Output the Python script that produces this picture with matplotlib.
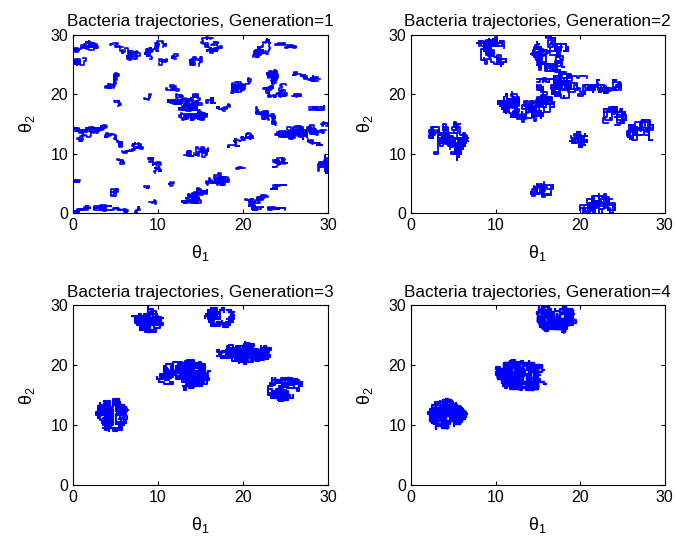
import matplotlib

matplotlib.use("Agg")
import matplotlib.pyplot as plt
import numpy as np

plt.rcParams["font.family"] = ["Liberation Sans", "DejaVu Sans"]
plt.rcParams["mathtext.fontset"] = "custom"
plt.rcParams["mathtext.rm"] = "Liberation Sans"
plt.rcParams["mathtext.it"] = "Liberation Sans:italic"

# Hand-typed lattice step sequences: only the fine texture of each trajectory
STEPS = ("rruldrrdluurrdldllurullddrrrdrullluurdluurrrrddlddllulllurruurrdrdddlldrrr"
         "ululurdddlluullldrrdrruuulldlurrrrdddllldllurrrruuullldddrruldrulldruurrd"
         "ddllluuuulluurddrddrrruuldluulllddrdllddrrrurdrruulluuurrdlddrrdllldlluur"
         "ullddddrruurrrdlldrruuuulllddrrulldluurrddrdlluuurrrrdddlluuldlddrrruullu")
TURNS = ("dddrrulurrddlldllluuulurrrrddrdllullluuurrrdddrrruulldldllldddrruurrdrru"
         "llluuullldddrrdlluurrruuldrrddddllllurrruuulldddrrrruullldddrruuuluurrdr"
         "rulluullddldrrdrrurrdddllullldddrruuurrdrrdlldllluuuulurrrddrrrullluuld")
# Irregular outline of a dense blob (relative radius around the centre)
LOBES = [1.1, 0.9, 1.0, 0.82, 1.05, 0.88, 1.1, 0.95, 0.84, 1.0, 0.9, 1.05]
# Where the separate scribbles of one blob begin (fraction of half width / height)
SEEDS = [(0.0, 0.0), (0.55, 0.45), (-0.55, 0.45), (0.5, -0.5), (-0.5, -0.5),
         (0.0, 0.65), (0.0, -0.65), (0.7, 0.0), (-0.7, 0.0)]

# Blob bounding boxes (centre x, centre y, half width, half height), per generation
gen1_x = [1.5, 0.8, 4.9, 6.7, 9.7, 10.6, 12.0, 14.5, 16.3, 22.2, 25.0, 4.6, 5.2, 8.8,
          11.7, 13.5, 16.2, 17.7, 19.8, 23.8, 26.7, 28.4, 26.3, 28.7, 22.7, 26.8, 29.6,
          28.5, 19.7, 15.1, 24.4, 29.4, 2.0, 4.8, 7.0, 9.6, 9.9, 5.6, 0.5, 4.9, 8.7,
          9.4, 11.6, 14.3, 17.2, 19.7, 21.6, 24.0, 24.2, 1.0, 3.5, 5.5, 7.6, 13.6,
          16.0, 12.7]
gen1_y = [28.0, 25.5, 28.3, 26.8, 27.5, 25.5, 26.3, 25.5, 28.3, 27.8, 28.2, 22.3, 18.5,
          19.5, 21.0, 17.8, 19.0, 17.8, 21.5, 21.8, 23.2, 22.6, 19.8, 17.7, 16.3, 13.6,
          15.0, 12.0, 12.3, 10.3, 8.5, 8.2, 13.5, 12.3, 11.0, 8.7, 7.3, 8.7, 5.4, 3.5,
          4.4, 1.9, 4.9, 3.0, 5.8, 7.6, 1.8, 0.8, 4.4, 0.6, 0.9, 0.5, 0.5, 10.0, 5.2,
          19.5]
gen1_w = [1.5, 0.7, 0.6, 1.2, 1.2, 0.5, 0.4, 0.7, 1.2, 1.0, 1.2, 0.8, 0.4, 0.4, 0.8,
          2.3, 0.5, 0.8, 1.2, 1.4, 0.8, 0.7, 0.5, 0.9, 1.2, 3.0, 0.4, 0.8, 1.5, 0.8,
          0.8, 0.6, 2.0, 1.0, 1.2, 0.8, 0.4, 0.4, 0.3, 0.4, 0.3, 0.4, 0.3, 1.5, 1.2,
          0.5, 1.3, 1.0, 0.9, 1.0, 1.0, 1.0, 0.3, 0.5, 0.4, 0.6]
gen1_h = [0.9, 0.6, 0.3, 1.1, 1.5, 0.5, 0.4, 0.8, 1.3, 1.5, 0.4, 1.3, 0.4, 0.5, 0.5,
          2.2, 0.4, 0.6, 1.3, 2.3, 0.6, 0.4, 0.2, 0.3, 1.5, 1.2, 0.3, 0.5, 1.2, 0.9,
          0.8, 1.5, 1.3, 1.2, 0.8, 0.6, 0.5, 0.4, 0.2, 0.6, 0.2, 0.3, 0.3, 1.2, 1.0,
          0.2, 1.3, 0.3, 0.4, 0.6, 0.5, 0.4, 0.6, 0.4, 0.4, 0.5]

gen2_x = [4.4, 9.5, 16.4, 19.2, 15.8, 23.1, 13.6, 24.1, 27.1, 19.8, 15.5, 22.1]
gen2_y = [12.2, 27.2, 26.8, 21.6, 22.4, 21.3, 18.5, 16.4, 14.0, 12.4, 4.0, 1.6]
gen2_w = [2.3, 1.7, 2.2, 2.6, 0.9, 1.8, 3.3, 1.4, 1.5, 1.0, 1.3, 2.1]
gen2_h = [3.2, 2.5, 3.0, 2.2, 0.4, 1.1, 3.1, 1.5, 1.7, 1.2, 1.2, 1.7]

gen3_x = [4.6, 8.8, 17.2, 20.1, 13.0, 24.9]
gen3_y = [11.7, 27.6, 28.0, 22.0, 18.3, 16.0]
gen3_w = [1.9, 1.8, 1.7, 3.2, 3.1, 2.0]
gen3_h = [2.6, 2.1, 1.6, 1.8, 2.5, 1.9]

gen4_x = [4.3, 13.0, 17.2]
gen4_y = [11.9, 18.3, 27.8]
gen4_w = [2.3, 3.0, 2.3]
gen4_h = [2.5, 2.5, 2.2]

generations = [1, 2, 3, 4]
boxes = [
    (gen1_x, gen1_y, gen1_w, gen1_h),
    (gen2_x, gen2_y, gen2_w, gen2_h),
    (gen3_x, gen3_y, gen3_w, gen3_h),
    (gen4_x, gen4_y, gen4_w, gen4_h),
]

MOVES = {"u": (0, 1), "d": (0, -1), "l": (-1, 0), "r": (1, 0)}
TURN_CODE = {"u": 0, "d": 3, "l": 5, "r": 6}
CHUNK = 9
PX_X, PX_Y = 8.5, 5.93          # pixels per data unit in each panel
STEP_PX = 2.0


def step_sequence(n, start):
    # typed step string, re-oriented chunk by chunk with the typed turn string
    steps = np.array([MOVES[c] for c in STEPS], dtype=float)
    out = np.empty((n, 2))
    for j in range(0, n, CHUNK):
        m = min(CHUNK, n - j)
        idx = (start + j + np.arange(m)) % len(steps)
        s = steps[idx].copy()
        code = (TURN_CODE[TURNS[(start + j // CHUNK) % len(TURNS)]] + j // CHUNK) % 8
        if code & 1:
            s[:, 0] *= -1
        if code & 2:
            s[:, 1] *= -1
        if code & 4:
            s = s[:, ::-1]
        out[j:j + m] = s
    return out


def fit_box(x, y, cx, cy, hw, hh):
    # stretch a path so that it fills the blob's measured bounding box
    x0, x1 = np.nanmin(x), np.nanmax(x)
    y0, y1 = np.nanmin(y), np.nanmax(y)
    u = 2 * (x - x0) / max(x1 - x0, 1e-9) - 1
    v = 2 * (y - y0) / max(y1 - y0, 1e-9) - 1
    return cx + hw * u, cy + hh * v


def free_trail(cx, cy, hw, hh, n, start):
    xy = np.vstack([[0.0, 0.0], np.cumsum(step_sequence(n, start), axis=0)])
    return fit_box(xy[:, 0], xy[:, 1], cx, cy, hw, hh)


def confined_walk(cx, cy, hw, hh, x0, y0, n, start, rot):
    # lattice walk kept inside an irregular outline by bouncing back at its edge
    s = step_sequence(n, start)
    dx, dy = STEP_PX / PX_X, STEP_PX / PX_Y
    ang = np.linspace(-np.pi, np.pi, len(LOBES) + 1)
    r = np.roll(np.asarray(LOBES), rot)
    rad = np.append(r, r[0])
    x, y = x0, y0
    xs, ys = [x], [y]
    for sx, sy in s:
        nx, ny = x + sx * dx, y + sy * dy
        ux, uy = (nx - cx) / hw, (ny - cy) / hh
        lim = np.interp(np.arctan2(uy, ux), ang, rad)
        if ux * ux + uy * uy > lim * lim:
            nx, ny = x - sx * dx, y - sy * dy
        x, y = nx, ny
        xs.append(x)
        ys.append(y)
    return xs, ys


def blob(cx, cy, hw, hh, n, start, rot, n_seeds):
    xs, ys = [], []
    per = n // n_seeds
    for i, (fx, fy) in enumerate(SEEDS[:n_seeds]):
        wx, wy = confined_walk(cx, cy, hw, hh, cx + fx * hw, cy + fy * hh, per,
                               (start + 53 * i) % len(STEPS), rot)
        xs += wx + [np.nan]
        ys += wy + [np.nan]
    return fit_box(np.array(xs), np.array(ys), cx, cy, hw, hh)


fig = plt.figure(figsize=(6.76, 5.44), dpi=100)
positions = [
    [0.108, 0.608, 0.377, 0.328],
    [0.608, 0.608, 0.375, 0.328],
    [0.108, 0.108, 0.377, 0.331],
    [0.608, 0.108, 0.375, 0.331],
]
coverage = [0.7, 1.6, 2.6, 3.2]
n_seeds = [1, 5, 9, 9]
line_w = [1.2, 1.3, 1.5, 1.6]

for g, (bx, by, bw, bh), pos, cov, ns, lw in zip(generations, boxes, positions,
                                                 coverage, n_seeds, line_w):
    ax = fig.add_axes(pos)
    for k, (cx, cy, hw, hh) in enumerate(zip(bx, by, bw, bh)):
        area_px = (2 * hw * PX_X) * (2 * hh * PX_Y)
        start = (k * 37 + g * 11) % len(STEPS)
        if g == 1:
            px, py = free_trail(cx, cy, hw, hh, int(max(30, cov * area_px)), start)
        else:
            n = int(cov * 0.785 * area_px / STEP_PX ** 2)
            px, py = blob(cx, cy, hw, hh, n, start, k * 5, ns)
        ax.plot(px, py, color="#0000ff", lw=lw)

    ax.set_xlim(0, 30)
    ax.set_ylim(0, 30)
    ax.set_xticks([0, 10, 20, 30])
    ax.set_yticks([0, 10, 20, 30])
    ax.tick_params(direction="in", top=True, right=True, length=3, labelsize=11.5,
                   width=0.8)
    for sp in ax.spines.values():
        sp.set_linewidth(0.8)
    ax.set_title(f"Bacteria trajectories, Generation={g}", fontsize=12.3, pad=6)
    ax.set_xlabel(r"$\mathrm{\theta_1}$", fontsize=13, labelpad=7)
    ax.set_ylabel(r"$\mathrm{\theta_2}$", fontsize=13, labelpad=10)

fig.savefig("out.png", dpi=100)
